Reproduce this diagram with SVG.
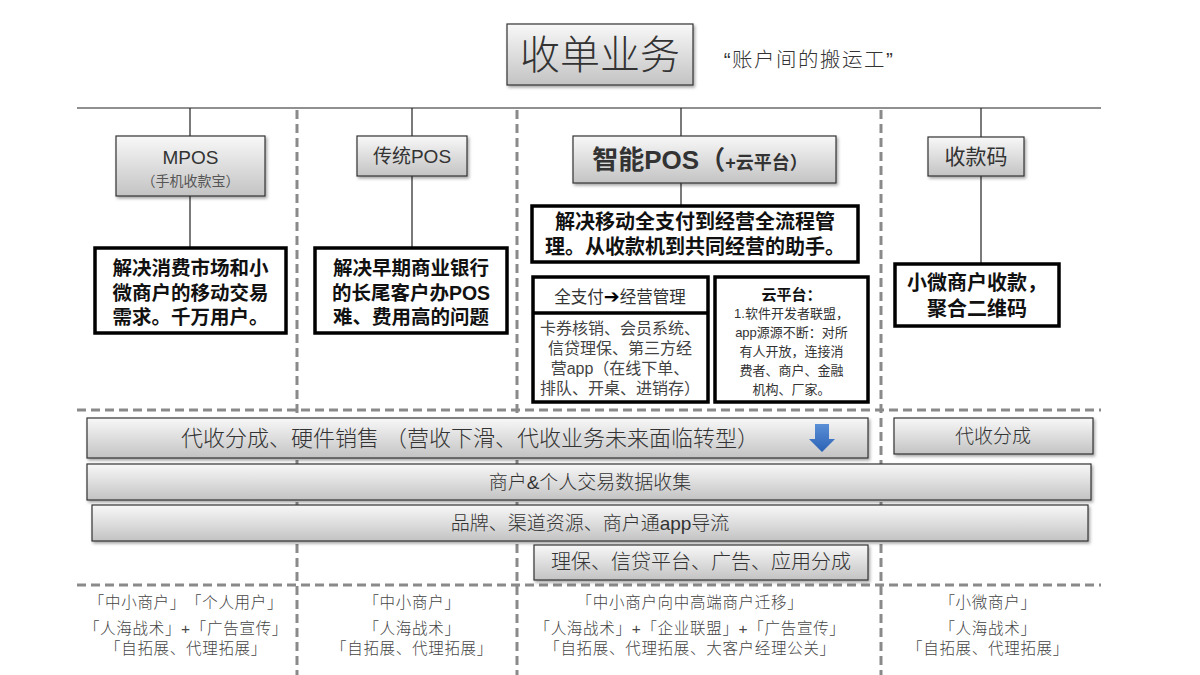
<svg xmlns="http://www.w3.org/2000/svg" width="1200" height="675" viewBox="0 0 1200 675">
<defs>
  <linearGradient id="g" x1="0" y1="0" x2="0" y2="1">
    <stop offset="0" stop-color="#f8f8f8"/>
    <stop offset="1" stop-color="#c3c3c3"/>
  </linearGradient>
  <linearGradient id="blue" x1="0" y1="0" x2="0" y2="1">
    <stop offset="0" stop-color="#5b8fd6"/>
    <stop offset="1" stop-color="#2a62b5"/>
  </linearGradient>
  <filter id="sh" x="-10%" y="-20%" width="130%" height="160%">
    <feDropShadow dx="1.5" dy="2" stdDeviation="1.5" flood-color="#000" flood-opacity="0.35"/>
  </filter>
</defs>
<style>
  text{font-family:"Liberation Sans","Noto Sans CJK SC",sans-serif;text-anchor:middle;text-spacing-trim:space-all}
  .gb{fill:url(#g);stroke:#333;stroke-width:1.2;filter:url(#sh)}
  .tb{fill:#fff;stroke:#000;stroke-width:3.5}
  .sep{stroke:#8a8a8a;stroke-width:3;stroke-dasharray:9 5;fill:none}
  .ln{stroke:#222;stroke-width:1.2;fill:none}
  .gt{fill:#333}
  .bt{font-weight:bold;fill:#111}
  .lo{fill:#444;font-size:15.5px;font-weight:300;letter-spacing:0.7px}
</style>
<rect width="1200" height="675" fill="#fff"/>

<g id="separators">
  <line class="sep" x1="297" y1="110" x2="297" y2="675"/>
  <line class="sep" x1="517" y1="110" x2="517" y2="675"/>
  <line class="sep" x1="881" y1="110" x2="881" y2="675"/>
  <line class="sep" x1="77" y1="410" x2="1101" y2="410"/>
  <line class="sep" x1="77" y1="585" x2="1101" y2="585"/>
</g>

<g id="connectors">
  <line class="ln" x1="77" y1="108" x2="1101" y2="108"/>
  <line class="ln" x1="190" y1="108" x2="190" y2="136"/>
  <line class="ln" x1="190" y1="196" x2="190" y2="248"/>
  <line class="ln" x1="412" y1="108" x2="412" y2="136"/>
  <line class="ln" x1="412" y1="176" x2="412" y2="248"/>
  <line class="ln" x1="681" y1="108" x2="681" y2="136"/>
  <line class="ln" x1="681" y1="183" x2="681" y2="206"/>
  <line class="ln" x1="981" y1="108" x2="981" y2="137"/>
  <line class="ln" x1="981" y1="176" x2="981" y2="264"/>
</g>

<g id="title">
  <rect class="gb" x="507" y="24" width="186" height="61"/>
  <text x="600" y="69" class="gt" style="font-size:40px;font-weight:300">收单业务</text>
  <text x="809" y="67" class="gt" style="font-size:20.5px;font-weight:300;letter-spacing:1.5px">“账户间的搬运工”</text>
</g>

<g id="mpos">
  <rect class="gb" x="116" y="136" width="149" height="60"/>
  <text x="190.5" y="164" class="gt" style="font-size:19px">MPOS</text>
  <text x="190.5" y="186" style="font-size:14px;fill:#555">（手机收款宝）</text>
</g>
<g id="mpos-desc">
  <rect class="tb" x="95" y="248" width="191" height="85"/>
  <text class="bt" x="190.5" y="275" style="font-size:19.5px">解决消费市场和小</text>
  <text class="bt" x="190.5" y="300" style="font-size:19.5px">微商户的移动交易</text>
  <text class="bt" x="190.5" y="324" style="font-size:19.5px">需求。千万用户。</text>
</g>

<g id="pos">
  <rect class="gb" x="357" y="136" width="110" height="40"/>
  <text x="412" y="163" class="gt" style="font-size:19px">传统POS</text>
</g>
<g id="pos-desc">
  <rect class="tb" x="315" y="248" width="192" height="85"/>
  <text class="bt" x="411" y="275" style="font-size:19.5px">解决早期商业银行</text>
  <text class="bt" x="411" y="300" style="font-size:19.5px">的长尾客户办POS</text>
  <text class="bt" x="411" y="324" style="font-size:19.5px">难、费用高的问题</text>
</g>

<g id="smart-pos">
  <rect class="gb" x="573" y="136" width="263" height="47"/>
  <text x="700" y="169" class="gt" style="font-size:26px;font-weight:bold">智能POS（<tspan style="font-size:18px">+云平台）</tspan></text>
</g>
<g id="smart-pos-desc">
  <rect class="tb" x="532" y="206" width="326" height="56"/>
  <text class="bt" x="695" y="229" style="font-size:20px">解决移动全支付到经营全流程管</text>
  <text class="bt" x="695" y="254" style="font-size:20px">理。从收款机到共同经营的助手。</text>
</g>
<g id="smart-pos-mgmt">
  <rect class="tb" x="533" y="277" width="175" height="125"/>
  <line x1="533" y1="313" x2="708" y2="313" stroke="#000" stroke-width="3.5"/>
  <text x="620" y="303" style="font-size:16.5px;fill:#333">全支付<tspan style="font-size:19px;font-weight:bold;fill:#000;font-family:'DejaVu Sans',sans-serif">➔</tspan>经营管理</text>
  <text x="620" y="334" style="font-size:16px;fill:#444">卡券核销、会员系统、</text>
  <text x="620" y="354" style="font-size:16px;fill:#444">信贷理保、第三方经</text>
  <text x="620" y="374" style="font-size:16px;fill:#444">营app（在线下单、</text>
  <text x="620" y="394" style="font-size:16px;fill:#444">排队、开桌、进销存）</text>
</g>
<g id="cloud">
  <rect class="tb" x="715" y="277" width="153" height="125"/>
  <text class="bt" x="791.5" y="300" style="font-size:15px">云平台：</text>
  <text x="791.5" y="318" style="font-size:13px;fill:#333">1.软件开发者联盟，</text>
  <text x="791.5" y="337" style="font-size:13px;fill:#333">app源源不断：对所</text>
  <text x="791.5" y="356" style="font-size:13px;fill:#333">有人开放，连接消</text>
  <text x="791.5" y="375" style="font-size:13px;fill:#333">费者、商户、金融</text>
  <text x="791.5" y="394" style="font-size:13px;fill:#333">机构、厂家。</text>
</g>

<g id="qrcode">
  <rect class="gb" x="928" y="137" width="96" height="39"/>
  <text x="976" y="164" class="gt" style="font-size:21px">收款码</text>
</g>
<g id="qrcode-desc">
  <rect class="tb" x="895" y="264" width="164" height="62"/>
  <text class="bt" x="977" y="290" style="font-size:20px">小微商户收款，</text>
  <text class="bt" x="977" y="316" style="font-size:20px">聚合二维码</text>
</g>

<g id="band-1">
  <rect class="gb" x="87" y="418" width="781" height="40"/>
  <text x="470" y="446" class="gt" style="font-size:22px;font-weight:300">代收分成、硬件销售 （营收下滑、代收业务未来面临转型）</text>
  <polygon points="815,424 829,424 829,439 835,439 822,452 809,439 815,439" fill="url(#blue)"/>
</g>
<g id="band-1b">
  <rect class="gb" x="894" y="418" width="199" height="36"/>
  <text x="993" y="443" class="gt" style="font-size:19px;font-weight:300">代收分成</text>
</g>
<g id="band-2">
  <rect class="gb" x="87" y="464" width="1004" height="36"/>
  <text x="590" y="489" class="gt" style="font-size:19px;font-weight:300">商户&amp;个人交易数据收集</text>
</g>
<g id="band-3">
  <rect class="gb" x="92" y="505" width="996" height="36"/>
  <text x="590" y="530" class="gt" style="font-size:19px;font-weight:300">品牌、渠道资源、商户通app导流</text>
</g>
<g id="band-4">
  <rect class="gb" x="534" y="545" width="334" height="35"/>
  <text x="701" y="569" class="gt" style="font-size:20px;font-weight:300">理保、信贷平台、广告、应用分成</text>
</g>

<g id="bottom-1">
  <text class="lo" x="186" y="608">「中小商户」「个人用户」</text>
  <text class="lo" x="186" y="634">「人海战术」+「广告宣传」</text>
  <text class="lo" x="186" y="654">「自拓展、代理拓展」</text>
</g>
<g id="bottom-2">
  <text class="lo" x="412" y="608">「中小商户」</text>
  <text class="lo" x="412" y="634">「人海战术」</text>
  <text class="lo" x="412" y="654">「自拓展、代理拓展」</text>
</g>
<g id="bottom-3">
  <text class="lo" x="690" y="608">「中小商户向中高端商户迁移」</text>
  <text class="lo" x="690" y="634">「人海战术」+「企业联盟」+「广告宣传」</text>
  <text class="lo" x="690" y="654">「自拓展、代理拓展、大客户经理公关」</text>
</g>
<g id="bottom-4">
  <text class="lo" x="988" y="608">「小微商户」</text>
  <text class="lo" x="988" y="634">「人海战术」</text>
  <text class="lo" x="988" y="654">「自拓展、代理拓展」</text>
</g>
</svg>
